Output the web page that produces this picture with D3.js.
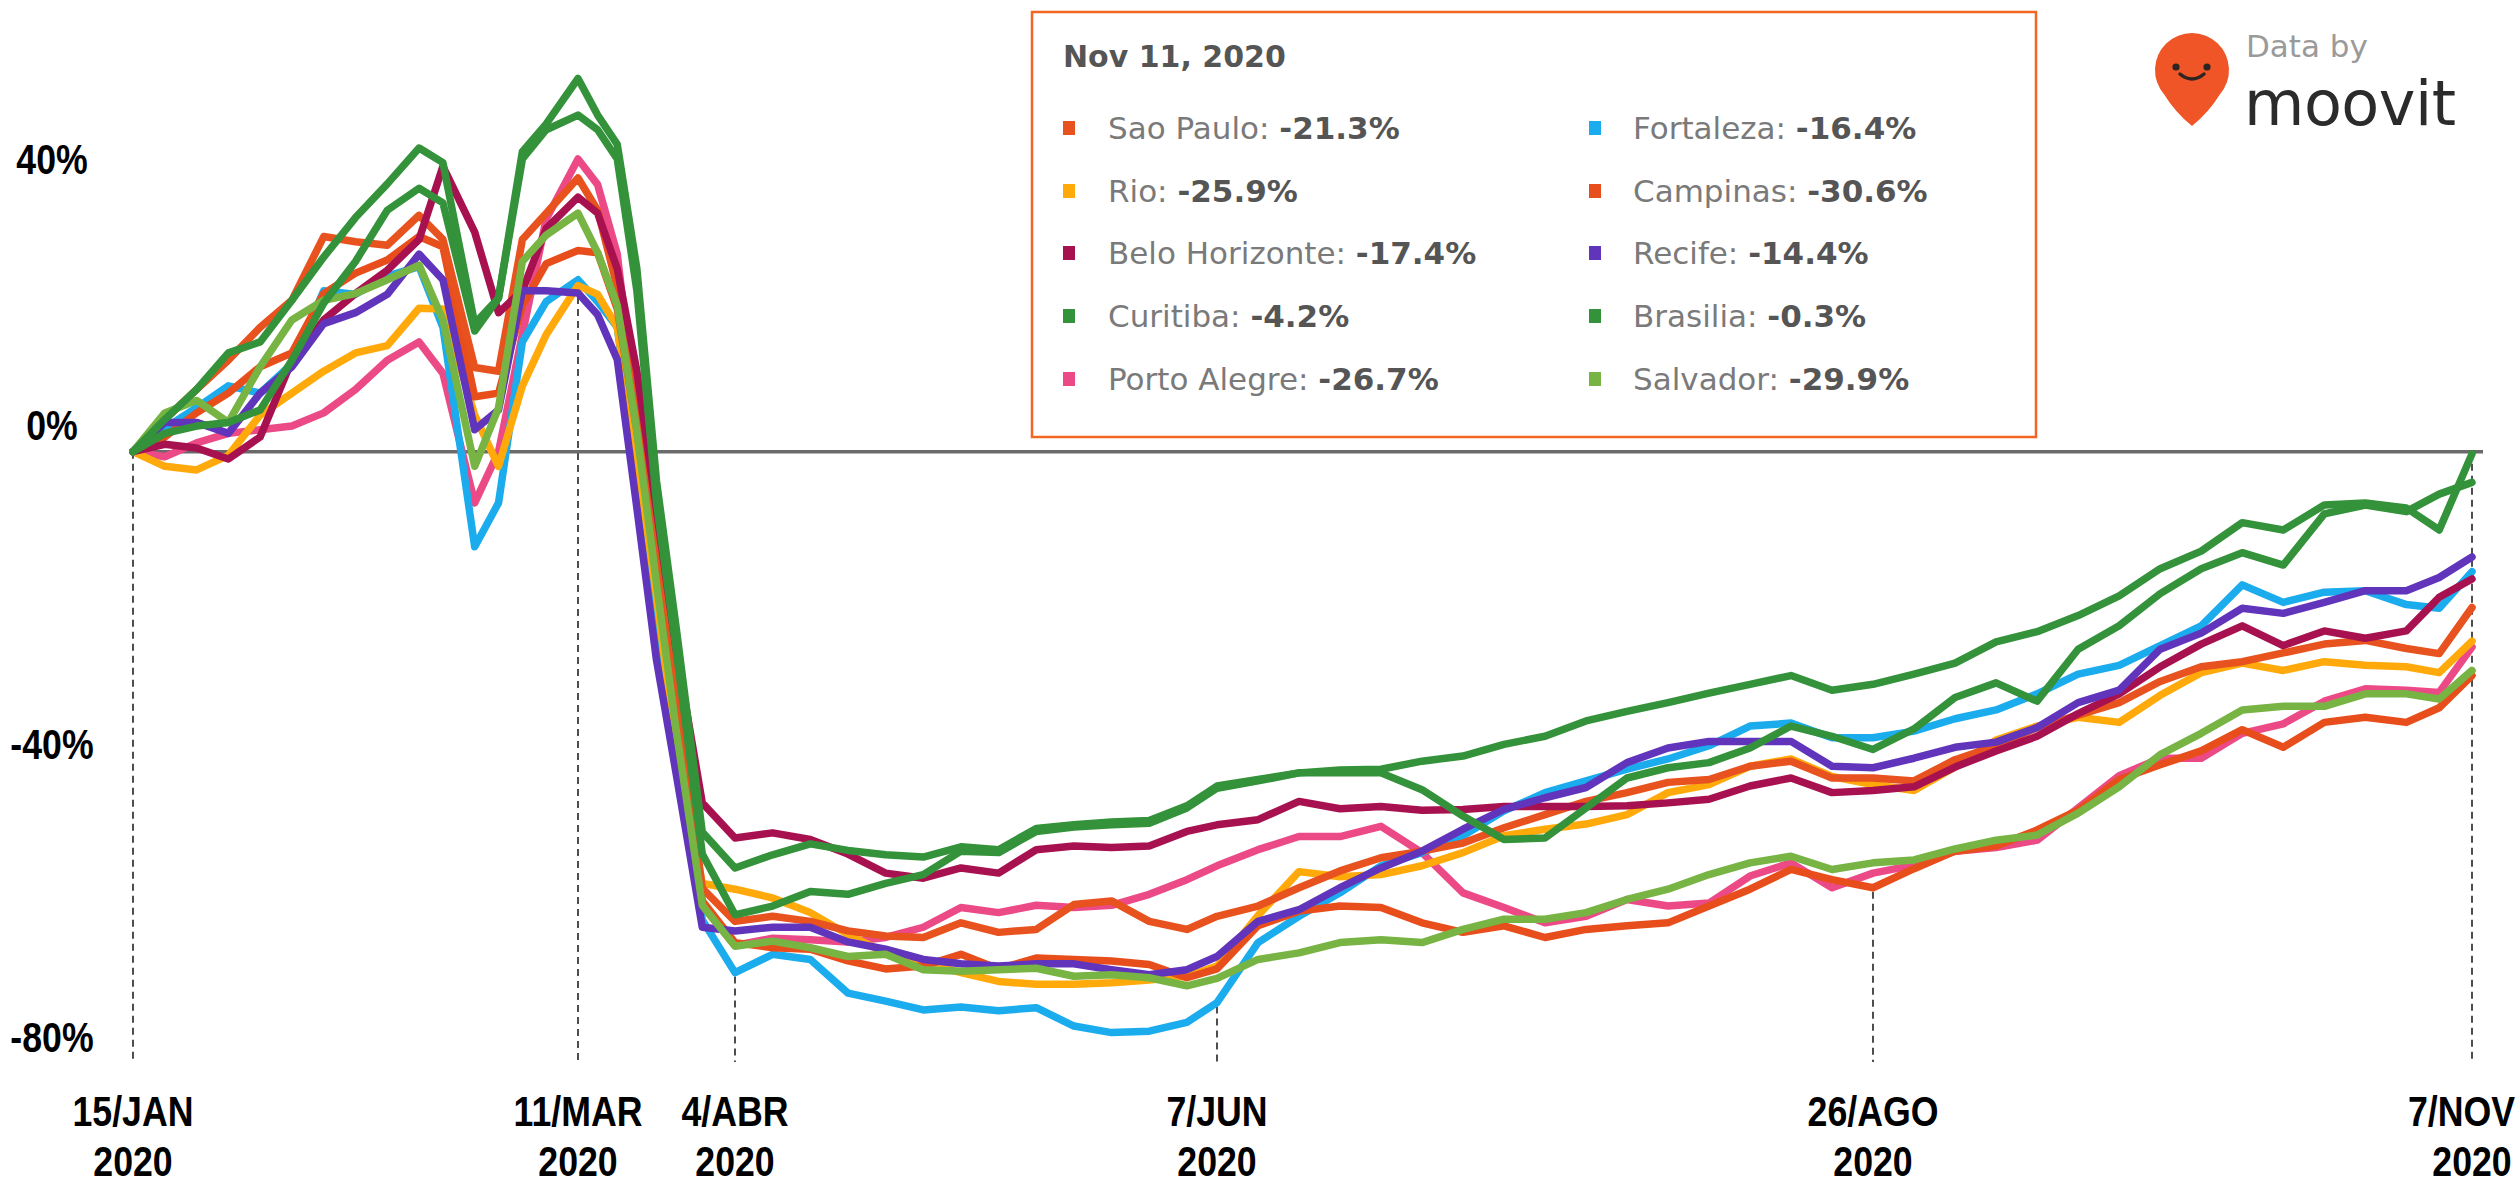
<!DOCTYPE html>
<html>
<head>
<meta charset="utf-8">
<script src="https://cdn.jsdelivr.net/npm/d3@7"></script>
<style>
  body { margin: 0; background: #fff; }
  svg { display: block; }
</style>
</head>
<body>
<div id="chart"></div>
<script>
// dates of the sampled points (shared by every city)
var dates = [
  "2020-01-15","2020-01-19","2020-01-23","2020-01-27","2020-01-31","2020-02-04","2020-02-08","2020-02-12",
  "2020-02-16","2020-02-20","2020-02-23","2020-02-27","2020-03-01","2020-03-04","2020-03-07","2020-03-11",
  "2020-03-14","2020-03-17","2020-03-20","2020-03-23","2020-03-26","2020-03-30",
  "2020-04-04","2020-04-09","2020-04-14","2020-04-19","2020-04-24","2020-04-29","2020-05-04","2020-05-09",
  "2020-05-14","2020-05-19","2020-05-24","2020-05-29","2020-06-03","2020-06-07",
  "2020-06-12","2020-06-17","2020-06-22","2020-06-27","2020-07-02","2020-07-07","2020-07-12","2020-07-17",
  "2020-07-22","2020-07-27","2020-08-01","2020-08-06","2020-08-11","2020-08-16","2020-08-21","2020-08-26",
  "2020-08-31","2020-09-05","2020-09-10","2020-09-15","2020-09-20","2020-09-25","2020-09-30","2020-10-05",
  "2020-10-10","2020-10-15","2020-10-20","2020-10-25","2020-10-30","2020-11-03","2020-11-07"
];

// % change in transit use
var saoPaulo = [0,4.4,8.5,12.5,17,20.7,29.4,28.7,28.2,32.3,29,11.5,11,29,32.6,37.4,
  33,22.5,4.5,-14.6,-32,-59.7,
  -64.2,-63.5,-64.2,-65.5,-66.2,-66.4,-64.4,-65.7,-65.3,-61.9,-61.4,-64.2,-65.3,-63.5,
  -62.1,-59.6,-57.3,-55.5,-54.6,-53.5,-51.4,-49.6,-47.8,-46.6,-45.2,-44.8,-43,-42.3,-44.6,-44.6,
  -45,-42.1,-40.2,-37.7,-36,-34.3,-31.4,-29.4,-28.7,-27.5,-26.3,-25.8,-26.9,-27.6,-21.3];
var rio = [0,-2,-2.5,-0.5,5,8,11,13.5,14.5,19.6,19.5,5,-2,9,16,22.7,
  21.5,17,-0.7,-19.8,-40.6,-59,
  -59.8,-61,-63,-66,-68.5,-69.8,-71.2,-72.4,-72.8,-72.8,-72.6,-72.2,-71.7,-70.3,
  -63.4,-57.4,-58.1,-57.8,-56.6,-54.8,-52.5,-51.6,-50.9,-49.6,-46.6,-45.5,-43,-42,-44.4,-45.5,
  -46.3,-43.1,-39.4,-37.5,-36.3,-37,-33.3,-30.2,-28.9,-29.9,-28.7,-29.2,-29.4,-30.2,-25.9];
var beloHorizonte = [0,1,0.5,-1,2,12.5,18,21.6,24.8,29,39,30,19,22,30.5,34.8,
  32.6,25,11,-8,-27,-48,
  -52.8,-52.1,-53,-55,-57.6,-58.3,-56.9,-57.6,-54.4,-53.9,-54.1,-53.9,-51.9,-51,
  -50.3,-47.8,-48.8,-48.5,-49,-48.9,-48.5,-48.5,-48.5,-48.4,-48,-47.5,-45.7,-44.6,-46.6,-46.3,
  -45.8,-43.1,-40.9,-38.9,-35.8,-33.1,-29.4,-26.3,-23.8,-26.5,-24.5,-25.5,-24.5,-19.9,-17.4];
var curitiba = [0,4.4,8.5,13.5,15,20.7,26.6,32,36.6,41.5,39.5,17.5,21,40,44,46,
  44,40,22,-7,-27,-55,
  -63.3,-62.1,-60.1,-60.5,-59,-57.8,-54.6,-54.8,-51.9,-51.3,-51,-50.8,-48.7,-46,
  -45,-43.9,-43.9,-43.9,-46.2,-49.8,-53,-52.8,-48.7,-44.6,-43.2,-42.5,-40.5,-37.5,-38.9,-40.7,
  -37.9,-33.6,-31.6,-34.1,-27,-23.8,-19.4,-16,-13.8,-15.5,-8.5,-7.3,-8.2,-5.8,-4.2];
var portoAlegre = [0,-0.7,1.2,2.5,3,3.5,5.3,8.5,12.5,15,10.7,-7,0,16,31.8,40,
  36.5,27,4.5,-16,-33.6,-62,
  -67.5,-66.5,-66.7,-67,-66.4,-65,-62.3,-63,-62,-62.3,-62,-60.5,-58.5,-56.6,
  -54.4,-52.6,-52.6,-51.2,-54.8,-60.3,-62.3,-64.4,-63.5,-61.2,-62.1,-61.7,-58,-56.2,-59.6,-57.6,
  -56.5,-54.6,-54.1,-53.1,-48.7,-44.3,-41.9,-41.9,-38.5,-37.2,-34.1,-32.4,-32.6,-32.9,-26.7];
var fortaleza = [0,3.2,6,9,8,12,22,21.5,24,25.3,17,-13,-7,15,20.5,23.5,
  20.5,17,-2.4,-23,-42,-64,
  -71.2,-68.7,-69.4,-74,-75.1,-76.3,-75.9,-76.4,-76,-78.5,-79.4,-79.2,-78,-75.3,
  -67.1,-63.5,-60.3,-56.6,-54.8,-52.5,-49.1,-46.6,-45,-43.4,-42,-40.2,-37.5,-37.1,-39.1,-39.1,
  -38.2,-36.5,-35.3,-33.1,-30.4,-29.2,-26.5,-23.8,-18.2,-20.6,-19.2,-19,-20.9,-21.4,-16.4];
var campinas = [0,2,5.3,8,11.6,13.5,21.6,24.4,26.2,29.4,28,7.5,8,20,25.7,27.5,
  27.2,19.5,2.8,-16,-33.6,-61.4,
  -67.1,-67.8,-68,-69.6,-70.7,-70.3,-68.7,-70.7,-69.2,-69.4,-69.6,-70.1,-71.9,-70.7,
  -64.8,-62.8,-62.1,-62.3,-64.4,-65.7,-64.8,-66.4,-65.3,-64.8,-64.4,-62.1,-59.8,-57.1,-58.5,-59.6,
  -57,-54.6,-53.9,-51.7,-49,-44.8,-42.8,-40.9,-38,-40.4,-37,-36.3,-37,-35,-30.6];
var recife = [0,4,4,2.5,8,11.6,17.5,19,21.5,27,23.5,3,5.7,22,22,21.7,
  18.7,12.6,-7.7,-28.5,-44,-65,
  -65.5,-65,-65,-67,-68,-69.4,-70,-70.3,-70,-70,-70.8,-71.5,-70.8,-69,
  -64.2,-62.6,-59.6,-56.9,-54.6,-51.6,-48.9,-47.3,-45.9,-42.5,-40.5,-39.6,-39.6,-39.6,-43,-43.2,
  -41.9,-40.4,-39.7,-37.7,-34.3,-32.6,-27,-24.8,-21.4,-22.1,-20.6,-19,-19,-17.2,-14.4];
var brasilia = [0,2.5,3.5,4,5.7,12.5,20.3,26,33,36,34,16.5,21,41,44.8,51,
  46,42,25,-4,-24,-52,
  -56.9,-55.1,-53.6,-54.5,-55.1,-55.4,-54,-54.4,-51.5,-51,-50.6,-50.4,-48.4,-45.7,
  -44.8,-43.9,-43.5,-43.4,-42.3,-41.6,-40,-38.9,-36.8,-35.5,-34.3,-33,-31.8,-30.6,-32.6,-31.8,
  -30.4,-28.9,-26,-24.6,-22.4,-19.7,-16,-13.6,-9.7,-10.7,-7.3,-7,-7.7,-10.7,-0.3];
var salvador = [0,5.3,7,4,11.6,18,20.7,21.6,23.5,25.5,18,-2,6,26,29.6,32.6,
  27.2,20,2.8,-18,-38,-62,
  -67.6,-66.9,-67.8,-69,-68.7,-70.8,-71,-70.8,-70.6,-71.7,-71.5,-71.9,-73,-72,
  -69.4,-68.5,-67.1,-66.7,-67.1,-65.3,-63.9,-63.9,-63,-61.2,-59.8,-57.8,-56.2,-55.3,-57.1,-56.2,
  -55.8,-54.3,-53.1,-52.4,-49.4,-45.8,-41.4,-38.5,-35.3,-34.8,-34.8,-33.1,-33.1,-33.8,-29.9];

// legend (Nov 11, 2020 values)
var cities = ["Sao Paulo","Rio","Belo Horizonte","Curitiba","Porto Alegre",
              "Fortaleza","Campinas","Recife","Brasilia","Salvador"];
var lastValues = ["-21.3%","-25.9%","-17.4%","-4.2%","-26.7%",
                  "-16.4%","-30.6%","-14.4%","-0.3%","-29.9%"];
var colors = ["#E8521E","#FFAA0A","#A8114F","#33923A","#EC4A86",
              "#1BACEE","#E84E1B","#6134BC","#33923A","#77B443"];

// axis marks
var tickDates = ["2020-01-15","2020-03-11","2020-04-04","2020-06-07","2020-08-26","2020-11-07"];
var tickLabels = ["15/JAN","11/MAR","4/ABR","7/JUN","26/AGO","7/NOV"];
var yTicks = [40, 0, -40, -80];

var W = 2517, H = 1186;
var parse = d3.timeParse("%Y-%m-%d");

var series = [saoPaulo, rio, beloHorizonte, curitiba, portoAlegre,
              fortaleza, campinas, recife, brasilia, salvador].map(function(v, i){
  return {name: cities[i], values: v, color: colors[i], last: lastValues[i]};
});

// the original chart is not evenly spaced in time: piecewise scale through the marked dates
var x = d3.scaleTime()
  .domain(tickDates.map(parse))
  .range([133, 578, 735, 1217, 1873, 2472]);
var y = d3.scaleLinear().domain([-80, 40]).range([1037, 159]);

var svg = d3.select('#chart').append('svg')
  .attr('width', W)
  .attr('height', H)
  .style('background', '#fff');

// condensed bold look of the axis text (no narrow font installed, so squeeze it)
var squeeze = 0.83;
var axisText = function(sel){
  sel.attr('text-anchor', 'middle')
    .style('font-family', "'Liberation Sans',Arial,sans-serif")
    .style('font-weight', 'bold')
    .style('font-size', '43px')
    .style('fill', '#000');
};

// dashed guides from the marked dates
svg.append('g').selectAll('line').data(tickDates)
  .enter().append('line')
  .attr('x1', function(d){ return x(parse(d)); })
  .attr('x2', function(d){ return x(parse(d)); })
  .attr('y1', function(d, i){
    if (i === 0 || i === tickDates.length - 1) return y(0);
    var idx = dates.indexOf(d);
    return y(d3.min(series, function(s){ return s.values[idx]; })) + 4;
  })
  .attr('y2', 1062)
  .attr('stroke', '#222')
  .attr('stroke-width', 1.6)
  .attr('stroke-dasharray', '7,5');

// zero line
svg.append('line')
  .attr('x1', x(parse(tickDates[0])))
  .attr('x2', x(parse(tickDates[tickDates.length - 1])) + 11)
  .attr('y1', y(0)).attr('y2', y(0))
  .attr('stroke', '#6a6a6a')
  .attr('stroke-width', 3.5);

// city lines (drawn in this order so greens end on top like the original)
var drawOrder = [4, 5, 1, 6, 0, 2, 7, 9, 3, 8];
var line = d3.line()
  .x(function(d, i){ return x(parse(dates[i])); })
  .y(function(d){ return y(d); });

svg.append('g').selectAll('path').data(drawOrder.map(function(i){ return series[i]; }))
  .enter().append('path')
  .attr('d', function(d){ return line(d.values); })
  .attr('fill', 'none')
  .attr('stroke', function(d){ return d.color; })
  .attr('stroke-width', 7.5)
  .attr('stroke-linejoin', 'round')
  .attr('stroke-linecap', 'round');

// y labels
svg.append('g').selectAll('text').data(yTicks)
  .enter().append('text')
  .attr('transform', function(d){
    return 'translate(52,' + (d === 0 ? y(d) - 12 : y(d) + 15) + ') scale(' + squeeze + ',1)';
  })
  .call(axisText)
  .text(function(d){ return d + '%'; });

// x labels (two lines)
var row1 = 1126, row2 = 1176;
var xl = svg.append('g').selectAll('g').data(tickDates)
  .enter().append('g');
xl.append('text')
  .attr('class', 'xl1')
  .attr('transform', function(d){ return 'translate(' + x(parse(d)) + ',' + row1 + ') scale(' + squeeze + ',1)'; })
  .call(axisText)
  .text(function(d, i){ return tickLabels[i]; });
xl.append('text')
  .attr('transform', function(d){ return 'translate(' + x(parse(d)) + ',' + row2 + ') scale(' + squeeze + ',1)'; })
  .call(axisText)
  .text(function(d){ return d.slice(0, 4); });
// keep the last label inside the page
svg.selectAll('.xl1').each(function(d){
  var w = this.getComputedTextLength() * squeeze, cx = x(parse(d));
  if (cx + w / 2 > W - 2) {
    this.setAttribute('transform', 'translate(' + (W - 2 - w / 2) + ',' + row1 + ') scale(' + squeeze + ',1)');
  }
});

// legend box
var lg = svg.append('g');
lg.append('rect')
  .attr('x', 1032).attr('y', 12)
  .attr('width', 1004).attr('height', 425)
  .attr('fill', '#fff')
  .attr('stroke', '#F26522')
  .attr('stroke-width', 2.5);
lg.append('text')
  .attr('x', 1063).attr('y', 67)
  .style('font-family', "'DejaVu Sans',sans-serif")
  .style('font-weight', 'bold')
  .style('font-size', '30px')
  .style('fill', '#555')
  .text('Nov 11, 2020');

var rowY = [128, 191, 253, 316, 379];
var item = lg.selectAll('g.item').data(series)
  .enter().append('g')
  .attr('class', 'item')
  .attr('transform', function(d, i){
    var col = Math.floor(i / 5), row = i % 5;
    return 'translate(' + (col ? 1595 : 1069) + ',' + rowY[row] + ')';
  });
item.append('rect')
  .attr('x', -6).attr('y', -7)
  .attr('width', 12).attr('height', 14)
  .attr('fill', function(d){ return d.color; });
var itemText = item.append('text')
  .attr('x', function(d, i){ return i < 5 ? 39 : 38; })
  .attr('y', 11)
  .style('font-family', "'DejaVu Sans',sans-serif")
  .style('font-size', '31px');
itemText.append('tspan')
  .style('fill', '#7a7a7a')
  .text(function(d){ return d.name + ': '; });
itemText.append('tspan')
  .style('fill', '#555')
  .style('font-weight', 'bold')
  .text(function(d){ return d.last; });

// "Data by moovit" mark
var logo = svg.append('g').attr('transform', 'translate(2192,70)');
logo.append('path')
  .attr('d', 'M0,56 Q-17,42 -27.8,24.4 A37,37 0 1,1 27.8,24.4 Q17,42 0,56 Z')
  .attr('fill', '#EF5526');
logo.selectAll('circle').data([-16, 15])
  .enter().append('circle')
  .attr('cx', function(d){ return d; })
  .attr('cy', -3)
  .attr('r', 3.6)
  .attr('fill', '#2d2522');
logo.append('path')
  .attr('d', 'M-12,4 Q0,14 12,4')
  .attr('fill', 'none')
  .attr('stroke', '#2d2522')
  .attr('stroke-width', 3.5)
  .attr('stroke-linecap', 'round');
svg.append('text')
  .attr('x', 2246).attr('y', 57)
  .style('font-family', "'DejaVu Sans',sans-serif")
  .style('font-size', '31px')
  .style('fill', '#9a9a9a')
  .text('Data by');
svg.append('text')
  .attr('x', 2244).attr('y', 125)
  .style('font-family', "'DejaVu Sans',sans-serif")
  .style('font-size', '62px')
  .style('letter-spacing', '-0.5px')
  .style('fill', '#2b2b2b')
  .text('moovit');
</script>
</body>
</html>
